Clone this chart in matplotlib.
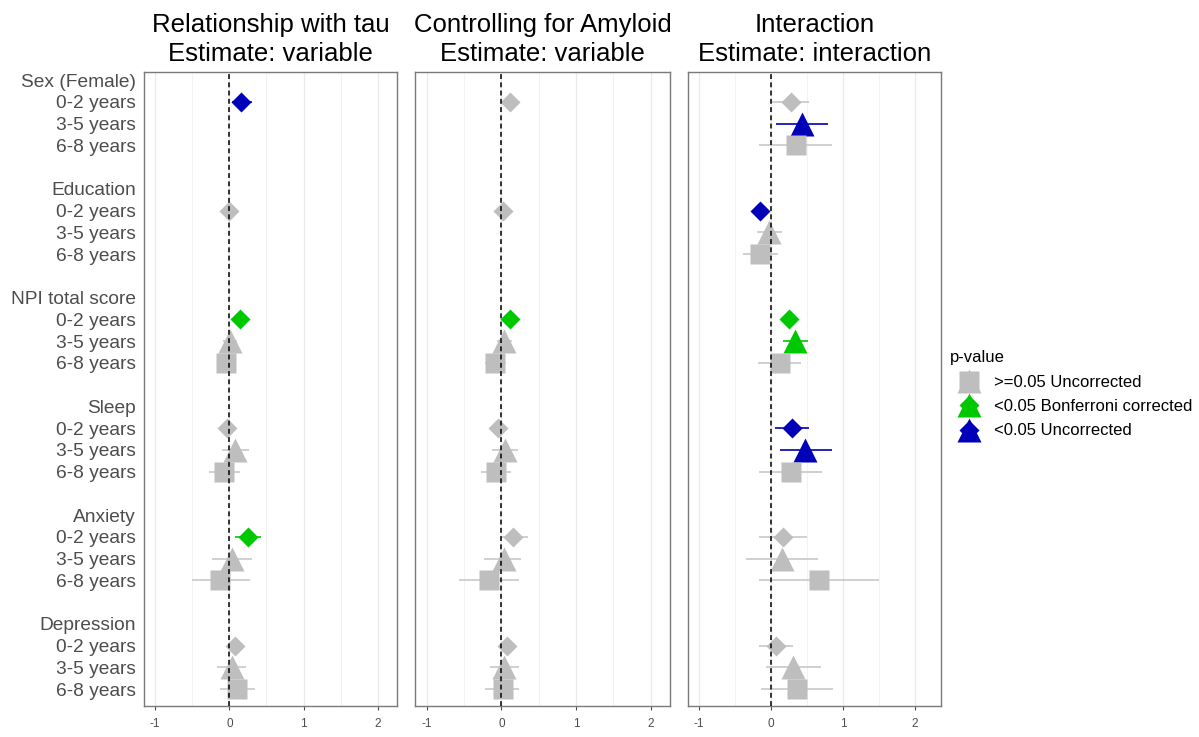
import numpy as np
import matplotlib
matplotlib.use("Agg")
import matplotlib.pyplot as plt
from matplotlib.lines import Line2D
from matplotlib.legend_handler import HandlerTuple

plt.rcParams['font.family'] = ['Liberation Sans', 'DejaVu Sans']

nan = np.nan

groups = ["Sex (Female)", "Education", "NPI total score", "Sleep", "Anxiety", "Depression"]
windows = ["0-2 years", "3-5 years", "6-8 years"]

titles = ["Relationship with tau\nEstimate: variable",
          "Controlling for Amyloid\nEstimate: variable",
          "Interaction\nEstimate: interaction"]

# estimates and 95% CI, group-major order (group x window)
est_tau = [0.16, nan, nan, 0.00, nan, nan, 0.15, 0.01, -0.05,
           -0.03, 0.08, -0.07, 0.25, 0.03, -0.12, 0.08, 0.03, 0.11]
lo_tau = [0.03, nan, nan, -0.03, nan, nan, 0.08, -0.08, -0.10,
          -0.08, -0.10, -0.27, 0.08, -0.24, -0.50, 0.03, -0.16, -0.12]
hi_tau = [0.31, nan, nan, 0.03, nan, nan, 0.22, 0.10, 0.01,
          0.02, 0.27, 0.15, 0.43, 0.30, 0.28, 0.13, 0.23, 0.34]
p_tau = ["unc", "", "", "ns", "", "", "bonf", "ns", "ns",
         "ns", "ns", "ns", "bonf", "ns", "ns", "ns", "ns", "ns"]

est_amy = [0.12, nan, nan, 0.02, nan, nan, 0.11, 0.04, -0.09,
           -0.04, 0.05, -0.08, 0.16, 0.03, -0.17, 0.07, 0.03, 0.02]
lo_amy = [0.02, nan, nan, -0.02, nan, nan, 0.05, -0.06, -0.22,
          -0.09, -0.13, -0.28, 0.00, -0.23, -0.57, 0.02, -0.15, -0.22]
hi_amy = [0.25, nan, nan, 0.06, nan, nan, 0.17, 0.14, 0.06,
          0.01, 0.22, 0.13, 0.35, 0.26, 0.23, 0.12, 0.24, 0.24]
p_amy = ["ns", "", "", "ns", "", "", "bonf", "ns", "ns",
         "ns", "ns", "ns", "ns", "ns", "ns", "ns", "ns", "ns"]

est_int = [0.27, 0.43, 0.34, -0.16, -0.03, -0.15, 0.25, 0.33, 0.12,
           0.29, 0.47, 0.28, 0.16, 0.15, 0.66, 0.07, 0.30, 0.36]
lo_int = [0.00, 0.07, -0.17, -0.22, -0.20, -0.39, 0.17, 0.16, -0.18,
          0.06, 0.12, -0.17, -0.17, -0.35, -0.17, -0.17, -0.07, -0.14]
hi_int = [0.53, 0.79, 0.85, -0.10, 0.15, 0.09, 0.37, 0.52, 0.42,
          0.53, 0.85, 0.71, 0.50, 0.65, 1.50, 0.31, 0.69, 0.86]
p_int = ["ns", "unc", "ns", "unc", "ns", "ns", "bonf", "bonf", "ns",
         "unc", "unc", "ns", "ns", "ns", "ns", "ns", "ns", "ns"]

panels = [(est_tau, lo_tau, hi_tau, p_tau),
          (est_amy, lo_amy, hi_amy, p_amy),
          (est_int, lo_int, hi_int, p_int)]

colors = {"ns": "#BEBEBE", "bonf": "#00C800", "unc": "#0000B8"}
bar_colors = {"ns": "#C8C8C8", "bonf": "#00C800", "unc": "#0000B8"}
markers = ["D", "^", "s"]
msizes = [10, 17, 14]

# row layout: group header then its three windows, blank row between groups
ytick_pos, ytick_lab = [], []
row_y = []
for g, name in enumerate(groups):
    ytick_pos.append(5 * g)
    ytick_lab.append(name)
    for w, win in enumerate(windows):
        ytick_pos.append(5 * g + 1 + w)
        ytick_lab.append(win)
        row_y.append(5 * g + 1 + w)

fig = plt.figure(figsize=(11.99, 7.37), dpi=100)
lefts = [0.1201, 0.3461, 0.5736]
widths = [0.2110, 0.2127, 0.2110]
xlims = [(-1.15, 2.26), (-1.16, 2.26), (-1.16, 2.36)]
bottom, top = 0.0421, 0.9023

for i, (est, lo, hi, pv) in enumerate(panels):
    ax = fig.add_axes([lefts[i], bottom, widths[i], top - bottom])
    for k in range(len(est)):
        if np.isnan(est[k]):
            continue
        w = k % 3
        y = row_y[k]
        ax.plot([lo[k], hi[k]], [y, y], color=bar_colors[pv[k]], lw=1.2,
                solid_capstyle='butt', zorder=2)
        ax.plot(est[k], y, marker=markers[w], ms=msizes[w], color=colors[pv[k]],
                mec='none', ls='none', zorder=3)
    ax.axvline(0, color='black', lw=1.1, ls=(0, (3.2, 2.2)), zorder=4)
    ax.set_xlim(*xlims[i])
    ax.set_ylim(28.77, -0.37)
    ax.set_xticks([-1, 0, 1, 2])
    ax.set_xticklabels(["-1", "0", "1", "2"])
    ax.set_xticks([-0.5, 0.5, 1.5], minor=True)
    ax.grid(axis='x', which='major', color='#EBEBEB', lw=1.0, zorder=0)
    ax.grid(axis='x', which='minor', color='#F2F2F2', lw=0.8, zorder=0)
    ax.set_axisbelow(True)
    ax.tick_params(axis='x', which='major', labelsize=8.5, colors='#4D4D4D',
                   length=3, width=0.8, pad=5.5)
    ax.tick_params(axis='x', which='minor', length=0)
    ax.set_yticks(ytick_pos)
    if i == 0:
        ax.set_yticklabels(ytick_lab)
        ax.tick_params(axis='y', length=0, labelsize=13.8, labelcolor='#4D4D4D', pad=6)
    else:
        ax.set_yticklabels([])
        ax.tick_params(axis='y', length=0)
    for sp in ax.spines.values():
        sp.set_color('#7A7A7A')
        sp.set_linewidth(1.0)
    ax.set_title(titles[i], fontsize=18.5, linespacing=1.25, pad=8)

# legend keys overlay every shape used at that p-value level
def key(shapes, c):
    return tuple(Line2D([], [], marker=m, ms=s, color=c, mec='none', ls='none')
                 for m, s in shapes)

all_shapes = [("s", 14), ("^", 17), ("D", 10)]
tri_shapes = [("D", 10), ("^", 17)]
handles = [key(all_shapes, colors["ns"]), key(tri_shapes, colors["bonf"]),
           key(tri_shapes, colors["unc"])]
labels = [">=0.05 Uncorrected", "<0.05 Bonferroni corrected", "<0.05 Uncorrected"]
fig.legend(handles, labels, title="p-value", loc='upper left',
           bbox_to_anchor=(0.780, 0.545), frameon=False, fontsize=12,
           title_fontsize=12, alignment='left', handlelength=2.2,
           handletextpad=0.4, labelspacing=0.56,
           handler_map={tuple: HandlerTuple(ndivide=1)})

fig.savefig("out.png", dpi=100)
